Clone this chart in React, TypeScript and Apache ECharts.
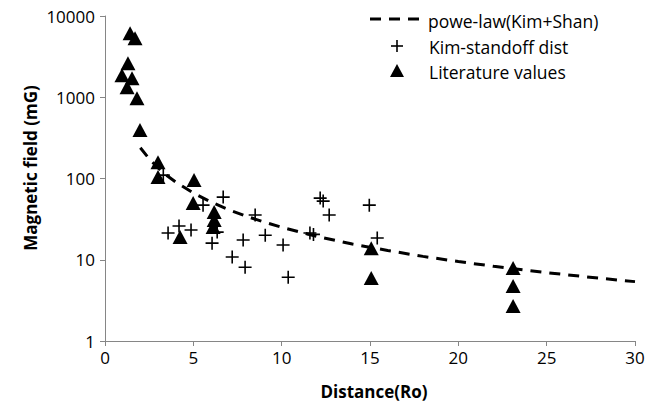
import React, { useEffect, useRef } from "react";
import * as echarts from "echarts";

// Power-law curve (Kim+Shan)
const lawX = [2, 2.5, 3, 3.5, 4, 5, 6, 7, 8, 9, 10, 12, 14, 16, 18, 20, 22, 24, 26, 28, 30];
const lawY = [239, 175, 135, 109, 90.5, 66.2, 51.3, 41.3, 34.3, 29.1, 25.1, 19.4, 15.6, 13.0, 11.0, 9.5, 8.31, 7.35, 6.57, 5.92, 5.38];

// Kim-standoff dist (crosses)
const kimX = [3.3, 3.57, 4.19, 4.87, 5.55, 6.69, 6.35, 6.06, 7.82, 7.2, 7.93, 8.5, 9.07, 10.08, 10.37, 11.6, 11.8, 12.18, 12.35, 12.69, 14.96, 15.41];
const kimY = [110, 21.3, 26, 23.2, 47, 59, 21.9, 16, 17.5, 10.8, 8.1, 35.5, 20, 15.2, 6.1, 21.3, 20.5, 57.4, 52.7, 35.5, 47, 18.5];

// Literature values (triangles)
const litX = [1.42, 1.7, 1.3, 0.96, 1.53, 1.25, 1.81, 1.98, 3.0, 3.0, 5.04, 4.99, 4.25, 6.18, 6.18, 6.12, 15.07, 15.07, 23.1, 23.1, 23.1];
const litY = [6140, 5330, 2630, 1870, 1718, 1331, 975, 394, 159, 104, 96, 50, 19, 38.6, 30.8, 25.3, 13.9, 5.96, 7.9, 4.75, 2.7];

const yTicks = ["1", "10", "100", "1000", "10000"];
const xTicks = ["0", "5", "10", "15", "20", "25", "30"];

const seriesNames = ["powe-law(Kim+Shan)", "Kim-standoff dist", "Literature values"];

const FONT = "'Open Sans', sans-serif";

export default function App() {
  const ref = useRef<HTMLDivElement>(null);
  useEffect(() => {
    if (!ref.current) return;
    const chart = echarts.init(ref.current, undefined, { renderer: "svg" });
    const zip = (xs: number[], ys: number[]) => xs.map((x, i) => [x, ys[i]]);
    chart.setOption({
      animation: false,
      backgroundColor: "#fff",
      grid: { left: 105, right: 24, top: 16, bottom: 63, containLabel: false },
      xAxis: {
        type: "value",
        min: 0,
        max: 30,
        interval: 5,
        axisLine: { show: true, onZero: false, lineStyle: { color: "#868686", width: 1 } },
        axisTick: { show: true, length: 5, lineStyle: { color: "#868686" } },
        splitLine: { show: false },
        axisLabel: {
          color: "#000",
          fontFamily: FONT,
          fontSize: 17,
          margin: 8,
          formatter: (v: number) => xTicks[Math.round(v / 5)] ?? String(v),
        },
      },
      yAxis: {
        type: "log",
        logBase: 10,
        min: 1,
        max: 10000,
        axisLine: { show: true, onZero: false, lineStyle: { color: "#868686", width: 1 } },
        axisTick: { show: true, length: 5, lineStyle: { color: "#868686" } },
        splitLine: { show: false },
        minorTick: { show: false },
        axisLabel: {
          color: "#000",
          fontFamily: FONT,
          fontSize: 17,
          margin: 10,
          formatter: (v: number) => yTicks[Math.round(Math.log10(v))] ?? String(v),
        },
      },
      series: [
        {
          name: seriesNames[1],
          type: "scatter",
          data: zip(kimX, kimY),
          symbol: "path://M5 0 L5 10 M0 5 L10 5",
          symbolSize: 13,
          itemStyle: { color: "none", borderColor: "#000", borderWidth: 1.6, opacity: 1 },
          z: 2,
        },
        {
          name: seriesNames[2],
          type: "scatter",
          data: zip(litX, litY),
          symbol: "triangle",
          symbolSize: [15, 14],
          itemStyle: { color: "#000", opacity: 1 },
          z: 3,
        },
        {
          name: seriesNames[0],
          type: "line",
          data: zip(lawX, lawY),
          showSymbol: false,
          symbol: "none",
          smooth: false,
          lineStyle: { color: "#000", width: 3, type: [11, 8] },
          z: 4,
        },
      ],
      graphic: [
        {
          type: "text",
          x: 30,
          y: 168,
          rotation: Math.PI / 2,
          style: {
            text: "Magnetic field (mG)",
            fill: "#000",
            font: `bold 17px ${FONT}`,
            align: "center",
            verticalAlign: "middle",
          },
        },
        {
          type: "text",
          x: 374,
          y: 391,
          style: {
            text: "Distance(Ro)",
            fill: "#000",
            font: `bold 17px ${FONT}`,
            align: "center",
            verticalAlign: "middle",
          },
        },
        // legend
        {
          type: "line",
          shape: { x1: 370, y1: 19, x2: 422, y2: 19 },
          style: { stroke: "#000", lineWidth: 3, lineDash: [11, 8] },
        },
        {
          type: "text",
          x: 428,
          y: 21,
          style: { text: seriesNames[0], fill: "#000", font: `17.5px ${FONT}`, verticalAlign: "middle" },
        },
        {
          type: "line",
          shape: { x1: 391, y1: 46, x2: 403, y2: 46 },
          style: { stroke: "#000", lineWidth: 1.6 },
        },
        {
          type: "line",
          shape: { x1: 397, y1: 40, x2: 397, y2: 52 },
          style: { stroke: "#000", lineWidth: 1.6 },
        },
        {
          type: "text",
          x: 429,
          y: 47,
          style: { text: seriesNames[1], fill: "#000", font: `17.5px ${FONT}`, verticalAlign: "middle" },
        },
        {
          type: "polygon",
          shape: { points: [[397, 64], [404, 77], [390, 77]] },
          style: { fill: "#000" },
        },
        {
          type: "text",
          x: 429,
          y: 72,
          style: { text: seriesNames[2], fill: "#000", font: `17.5px ${FONT}`, verticalAlign: "middle" },
        },
      ],
    });
    return () => chart.dispose();
  }, []);
  return <div ref={ref} style={{ width: 659, height: 404, position: "absolute", left: 0, top: 0 }} />;
}
